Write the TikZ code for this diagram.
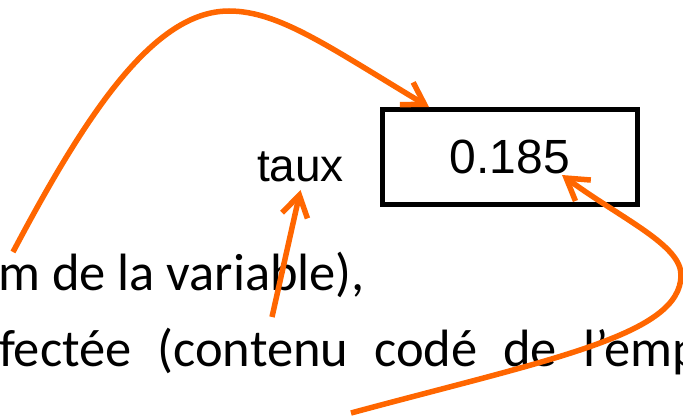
\documentclass[tikz,border=0pt]{standalone}
\usepackage{fontspec}
\setmainfont{Carlito}
\newfontfamily\arialfont{Liberation Sans}
\usepackage{tikz}
\usetikzlibrary{arrows.meta}
\definecolor{arrc}{HTML}{FF6600}

\begin{document}
\begin{tikzpicture}[x=1pt, y=-1pt,
  txt/.style={anchor=base west, inner sep=0pt, font=\fontsize{52.5}{60}\selectfont},
  var/.style={inner sep=0pt, font=\arialfont\fontsize{46}{54}\selectfont},
  cell/.style={draw=black, line width=5pt, minimum width=255pt, minimum height=95pt,
               inner sep=0pt, font=\arialfont\fontsize{48}{56}\selectfont},
  pt/.style={draw=arrc, line width=5.5pt, -{Straight Barb[length=21pt,width=26pt]}}]
\useasboundingbox (0,0) rectangle (683,417);
\clip (0,0) rectangle (683,417);
\node[txt] (l1) at (-2,290) {m de la variable),};
\node[txt] (l2) at (-1,366) {\spaceskip=26pt\relax fectée (contenu codé de l’emp};
\node[var, anchor=base] (taux) at (300.5,182) {taux};
\node[cell] (val) at (510,157) {0.185};
\coordinate (s1) at (13,252);
\coordinate (s2) at (272,317);
\coordinate (s3) at (351,413);
\draw[pt] (s1) .. controls (88,110) and (155,11) .. (229,11)
  .. controls (279,11) and (329,47) .. ([xshift=49pt]val.north west);
\draw[pt] (s2) -- ([yshift=-8pt]taux.base);
\draw[pt] (s3) .. controls (551,359) and (681,335) .. (681,275)
  .. controls (681,245) and (622,219) .. ([xshift=52pt,yshift=-18pt]val.center);
\end{tikzpicture}
\end{document}
